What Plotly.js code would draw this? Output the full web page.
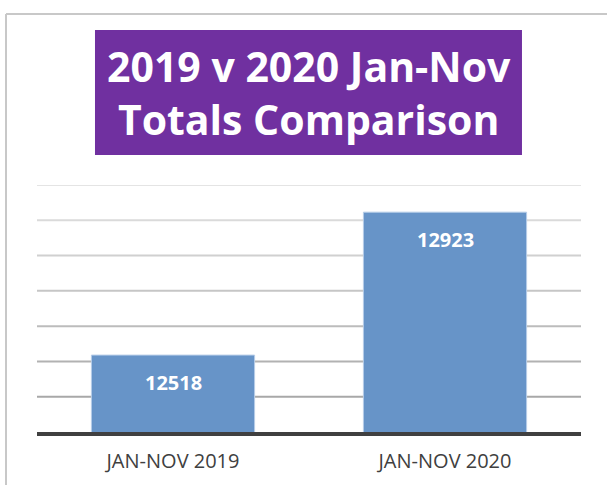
<!DOCTYPE html>
<html>
<head>
<meta charset="utf-8">
<script src="https://cdn.plot.ly/plotly-3.0.1.min.js"></script>
<style>html,body{margin:0;padding:0;background:#fff;}#chart{width:607px;height:485px;}</style>
</head>
<body>
<div id="chart"></div>
<script>
const categories = ["JAN-NOV 2019", "JAN-NOV 2020"];
const totals = [12518, 12923];
const titleLines = ["2019 v 2020 Jan-Nov", "Totals Comparison"];
const gridValues = [12400, 12500, 12600, 12700, 12800, 12900, 13000];

const trace = {
  type: "bar",
  x: categories,
  y: totals,
  width: 0.6,
  marker: {color: "#6794C8", line: {color: "#B7CDE8", width: 1}},
  hoverinfo: "skip"
};

const valueLabels = categories.map((c, i) => ({
  x: c, y: totals[i], xref: "x", yref: "y",
  text: "<b>" + totals[i] + "</b>", showarrow: false,
  yanchor: "middle", yshift: -27,
  font: {family: "Open Sans", size: 20, color: "#ffffff"}
}));

// gridlines fade from darker (bottom) to lighter (top), as in the reference
const gridShapes = gridValues.map((v, i) => {
  const t = gridValues.length > 1 ? i / (gridValues.length - 1) : 0;
  const c = Math.round(168 + t * (228 - 168));
  return {type: "line", xref: "paper", yref: "y", x0: 0, x1: 1, y0: v, y1: v,
          line: {color: "rgb(" + c + "," + c + "," + c + ")", width: 2}, layer: "below"};
});

const layout = {
  width: 607, height: 485,
  margin: {l: 37, r: 26, t: 185, b: 53},
  paper_bgcolor: "#ffffff", plot_bgcolor: "#ffffff",
  showlegend: false,
  bargap: 0.4,
  xaxis: {
    showline: true, linecolor: "#404040", linewidth: 4,
    showgrid: false, ticks: "",
    tickfont: {family: "Open Sans", size: 20, color: "#404040"},
    ticklabelstandoff: 8
  },
  yaxis: {
    range: [12300, 13000],
    showticklabels: false, showgrid: false,
    zeroline: false, showline: false
  },
  shapes: [
    {type: "line", xref: "paper", yref: "paper", x0: -0.057, x1: -0.057, y0: 1.692, y1: -0.22, line: {color: "#C8C8C8", width: 2}},
    {type: "line", xref: "paper", yref: "paper", x0: -0.057, x1: 1.06, y0: 1.692, y1: 1.692, line: {color: "#C8C8C8", width: 2}},
    {type: "rect", xref: "paper", yref: "paper", x0: 0.1066, x1: 0.8915, y0: 1.1215, y1: 1.6275, fillcolor: "#7030A0", line: {width: 0}, layer: "below"}
  ].concat(gridShapes),
  annotations: [
    {xref: "paper", yref: "paper", x: 0.5, y: 1.3765, xanchor: "center", yanchor: "middle", showarrow: false,
     text: "<b>" + titleLines.join("</b><br><b>") + "</b>",
     font: {family: "Open Sans", size: 41, color: "#ffffff"}}
  ].concat(valueLabels)
};

Plotly.newPlot("chart", [trace], layout, {displayModeBar: false, staticPlot: true});
</script>
</body>
</html>
